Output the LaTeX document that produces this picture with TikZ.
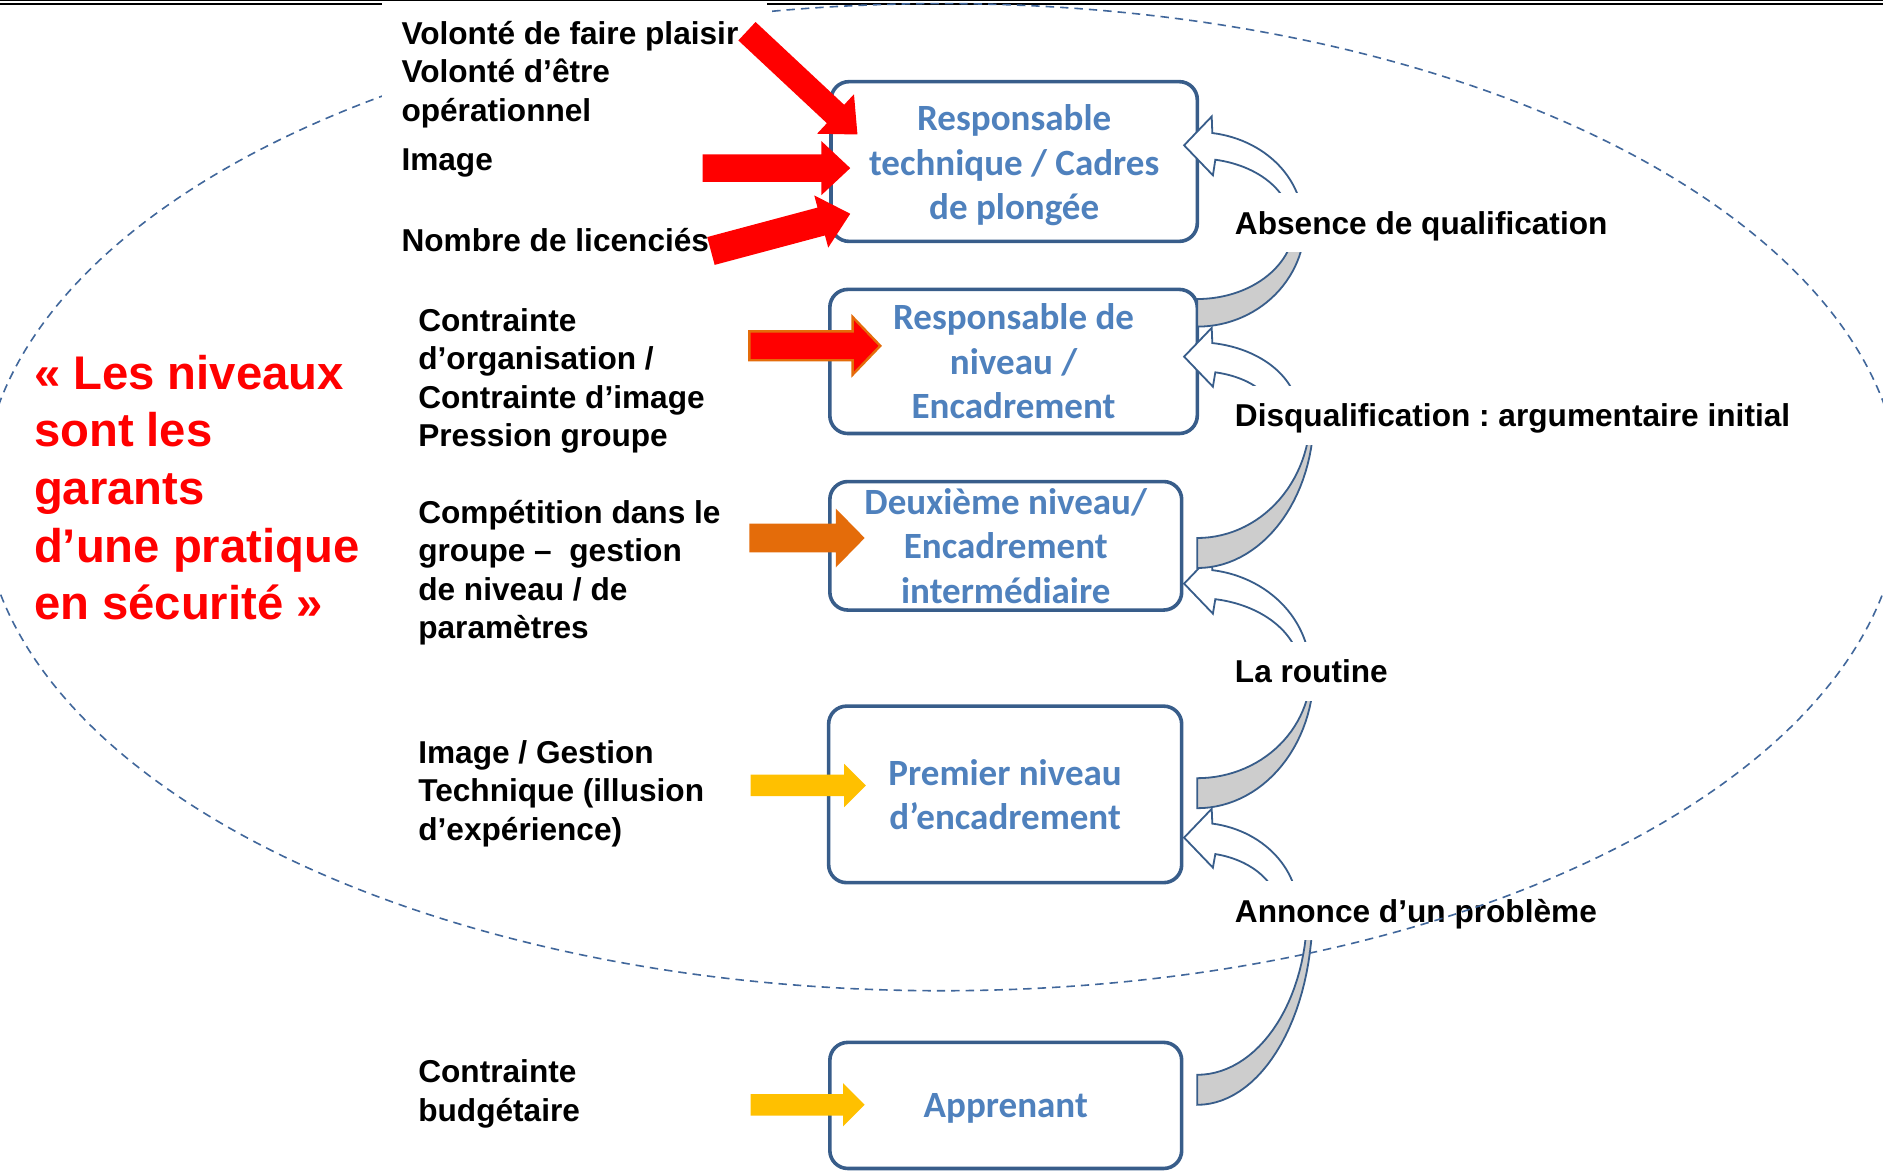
\documentclass[tikz,border=0pt]{standalone}
\usepackage{fontspec}
\setmainfont{Liberation Sans}
\newfontfamily\calibri{Carlito}
\usetikzlibrary{calc}
\definecolor{boxline}{HTML}{385D8A}
\definecolor{boxtext}{HTML}{4F81BD}
\definecolor{ringblue}{HTML}{41679B}
\definecolor{arroworange}{HTML}{E46C0A}
\definecolor{arrowyellow}{HTML}{FFC000}
\definecolor{bandgray}{HTML}{CDCDCD}
\frenchspacing
\tikzset{
  niveau/.style={draw=boxline, line width=1.8pt, rounded corners=9pt, fill=white, align=center, inner sep=0pt, text=boxtext, font=\calibri\bfseries\fontsize{18.5}{22.2}\selectfont},
  cause/.style={anchor=west, align=left, inner sep=0pt, font=\bfseries\fontsize{15.8}{19.2}\selectfont},
  effet/.style={anchor=west, fill=white, inner xsep=3.6pt, inner ysep=0pt, minimum height=29.4pt, text depth=0pt, font=\bfseries\fontsize{15.8}{19.2}\selectfont},
  slogan/.style={anchor=west, align=left, inner sep=0pt, text=red, font=\bfseries\fontsize{23.6}{28.8}\selectfont},
  band/.style={draw=boxline, line width=0.9pt, line join=miter},
  ring/.style={draw=ringblue, line width=0.8pt, dash pattern=on 4.2pt off 3pt},
  redfat/.style={fill=red},
  redorange/.style={fill=red, draw=arroworange, line width=1.2pt},
  orangefat/.style={fill=arroworange},
  yellowfat/.style={fill=arrowyellow},
}
\newcommand{\blockarrow}[6]{%
  \coordinate (hb) at ($(#2)!#5!(#1)$);
  \path[#6] ($(#1)!#3!90:(#2)$) -- ($(hb)!#3!90:(#2)$) -- ($(hb)!#4!90:(#2)$) -- (#2)
    -- ($(hb)!#4!-90:(#2)$) -- ($(hb)!#3!-90:(#2)$) -- ($(#1)!#3!-90:(#2)$) -- cycle;
}
\newcommand{\bendarrow}[9]{%
  \pgfmathsetmacro\tout{-acos(12.5/#2)}%
  \pgfmathsetmacro\tin{-acos(15/#3)}%
  \pgfmathsetmacro\tipy{(#6+#7)/2}%
  \filldraw[band, fill=bandgray] plot[domain=0:90, samples=30] ({997+#4*cos(\x)},{#1+(#8-#1)*sin(\x)})
    -- plot[domain=90:0, samples=30] ({997+#5*cos(\x)},{#1+(#9-#1)*sin(\x)}) -- cycle;
  \filldraw[band, fill=white] plot[domain=\tout:0, samples=30] ({997+#2*cos(\x)},{#1+(#1-#6)*sin(\x)})
    -- plot[domain=0:\tin, samples=30] ({997+#3*cos(\x)},{#1+(#1-#7)*sin(\x)})
    -- (1010,\tipy+25) -- (986,\tipy) -- (1009,\tipy-24) -- cycle;
}
\begin{document}
\begin{tikzpicture}[x=0.6pt, y=-0.6pt]
    \useasboundingbox (0,0) rectangle (1568,978.4);
    \draw[line width=1.1pt] (0,3.2) -- (1568,3.2);
    \node[niveau, minimum width=183pt, minimum height=79.8pt] (rt) at (844.5,134.5) {\rule{0pt}{17pt}Responsable\\technique / Cadres\\de plongée};
    \node[niveau, minimum width=183.6pt, minimum height=72pt] (rn) at (844,301) {Responsable de\\niveau /\\Encadrement};
    \node[niveau, minimum width=175.8pt, minimum height=64.2pt] (deux) at (837.5,454.5) {Deuxième niveau/\\Encadrement\\intermédiaire};
    \node[niveau, minimum width=176.4pt, minimum height=88.2pt] (prem) at (837,661.5) {Premier niveau\\d’encadrement};
    \node[niveau, minimum width=175.8pt, minimum height=63pt, text depth=0pt] (appr) at (837.5,920.5) {Apprenant};

    \bendarrow{758.5}{84}{68}{96}{91.5}{685}{710}{920}{895}
    \bendarrow{559}{94}{86}{97}{94.5}{474}{498}{673}{648}
    \bendarrow{346}{84.5}{64}{97}{94}{285}{309}{473}{448}
    \bendarrow{186}{88}{78}{89.6}{81}{110}{132}{272}{249}

    \node[effet] (absq) at (1022,185.5) {Absence de qualification};
    \node[effet] (disq) at (1022,346) {Disqualification : argumentaire initial};
    \node[effet] (rout) at (1022,559) {La routine};
    \node[effet] (ann) at (1022,758.5) {Annonce d’un problème};

    \begin{scope}
        \clip (0,0) rectangle (1568,978.4);
        \draw[ring] (784,414) ellipse [x radius=799, y radius=411];
    \end{scope}
    \fill[white] (318,1.5) rectangle (639,108);
    \draw[line width=0.5pt] (0,0.4) -- (1568,0.4);

    \node[slogan] (garants) at (28,406) {« Les niveaux\\sont les\\garants\\d’une pratique\\en sécurité »};
    \node[cause] (plaisir) at (334,62) {Volonté de faire plaisir\\Volonté d’être\\opérationnel};
    \node[cause] (image) at (334,136) {Image};
    \node[cause] (licen) at (334,200) {Nombre de licenciés};
    \node[cause] (contr) at (348,317) {Contrainte\\d’organisation /\\Contrainte d’image\\Pression groupe};
    \node[cause] (compet) at (348,477) {Compétition dans le\\groupe –\ \ gestion\\de niveau / de\\paramètres};
    \node[cause] (gest) at (348,661) {Image / Gestion\\Technique (illusion\\d’expérience)};
    \node[cause] (budget) at (348,911) {Contrainte\\budgétaire};

    \coordinate (s1) at (622,26);  \coordinate (e1) at (714,112);
    \coordinate (s2) at (585,140); \coordinate (e2) at (708,140);
    \coordinate (s3) at (592,209); \coordinate (e3) at (708,178);
    \coordinate (s4) at (624,288); \coordinate (e4) at (733,288);
    \coordinate (s5) at (624,448); \coordinate (e5) at (720,448);
    \coordinate (s6) at (625,654); \coordinate (e6) at (721,654);
    \coordinate (s7) at (625,920); \coordinate (e7) at (720,920);
    \blockarrow{s1}{e1}{6.3pt}{13.5pt}{15pt}{redfat}
    \blockarrow{s2}{e2}{6.9pt}{13.5pt}{14.4pt}{redfat}
    \blockarrow{s3}{e3}{7.2pt}{13.5pt}{15pt}{redfat}
    \blockarrow{s4}{e4}{7.2pt}{14.4pt}{13.8pt}{redorange}
    \blockarrow{s5}{e5}{7.2pt}{14.7pt}{14.4pt}{orangefat}
    \blockarrow{s6}{e6}{5.4pt}{10.8pt}{10.8pt}{yellowfat}
    \blockarrow{s7}{e7}{5.4pt}{10.8pt}{10.8pt}{yellowfat}
\end{tikzpicture}
\end{document}
